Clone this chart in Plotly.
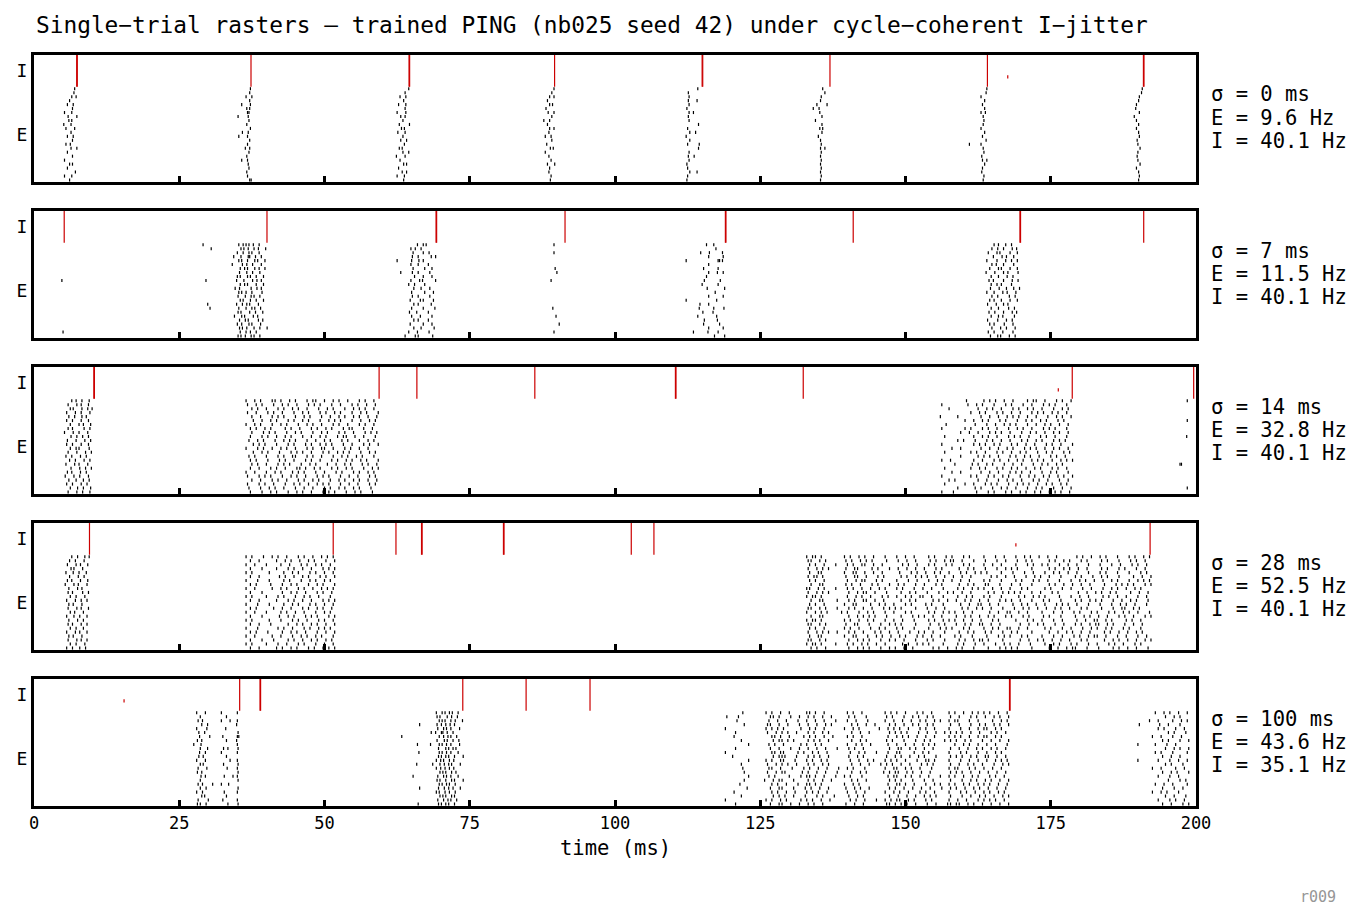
import plotly.graph_objects as go

# ---------------- data ----------------
N_E = 300          # E neuron index range (bottom)
N_I = 100          # I neuron index range (top)
N_ROWS = 24        # E rows (top row first)
TIME_TICKS = [0, 25, 50, 75, 100, 125, 150, 175, 200]

SIGMAS = ["0", "7", "14", "28", "100"]
E_RATES = ["9.6", "11.5", "32.8", "52.5", "43.6"]
I_RATES = ["40.1", "40.1", "40.1", "40.1", "35.1"]

# I population volleys (ms): all I cells fire together
I_VOLLEYS = [
    [7.35, 7.45, 37.35, 64.55, 64.65, 89.6, 115.0, 115.1, 137.0, 164.1, 190.95, 191.05],
    [5.2, 40.1, 69.2, 69.3, 91.4, 119.0, 119.1, 141.0, 169.7, 169.8, 191.0],
    [10.3, 10.4, 59.4, 65.9, 86.2, 110.4, 110.5, 132.4, 178.7, 199.6],
    [9.55, 51.5, 62.3, 66.7, 66.8, 80.8, 80.9, 102.8, 106.7, 192.1],
    [35.4, 38.9, 39.0, 73.8, 84.7, 95.7, 167.9, 168.0],
]
# isolated I spikes (time ms, neuron index)
I_SINGLES = [
    [(167.6, 331)],
    [],
    [(176.3, 328)],
    [(169.0, 331)],
    [(15.5, 331)],
]
# isolated E spikes (time ms, row)
E_SINGLES = [
    [],
    [(4.8, 9), (5.0, 22), (29.1, 0), (30.5, 1), (29.6, 9), (29.9, 15), (30.3, 16),
     (89.5, 0), (89.5, 2), (89.7, 6), (90.0, 7), (89.0, 9), (89.3, 16), (89.85, 18),
     (90.4, 20), (89.5, 22)],
    [(197.25, 16), (197.5, 16), (198.5, 0), (198.5, 5), (198.4, 9), (198.5, 22)],
    [],
    [(63.3, 6)],
]

# E bursts: (first column time ms, column width ms, rows top->bottom; '|' = spike)
# odd rows of the reading grid sit half a column later (staggered grid)
P1_BURSTS = [
    (5.0, 0.25, [
        "........|.", ".......|..", "......|..|", "....|.....", "...|...|..", "......|...",
        ".|....|...", "...|.....|", "....|.|...", "|....|....", "..|.....|.", ".....|....",
        "...|...|..", "......|...", "..|..|....", ".....|...|", "...|......", "......|...",
        ".|........", "....|.|...", "...|......", "........|.", ".|....|...", "....|....."]),
    (35.0, 0.25, [
        ".........|.", "........|..", "......|...|", "........|..", "...|.....|.", "......|.|..",
        ".......||..", "|......|...", "........|..", "......|....", ".........|.", "...|...|...",
        ".|.....|...", "........|..", ".......|...", ".....|..|..", "........|..", "......|....",
        "...|...|...", ".......|...", "........|..", "......|....", ".......|...", "........||."]),
    (62.0, 0.25, [
        "..........|", ".......|...", "....|...|..", "......|....", "...|....|..", ".......|...",
        "..|.....|..", "....|..|...", "......|....", "...|......|", ".....|.|...", "..|....|...",
        "......|....", "....|...|..", ".......|...", "...|.|.....", "......|...|", ".|.....|...",
        "....|......", "......|.|..", "...|.......", ".....|..|..", "..|....|...", "......|...."]),
    (87.5, 0.25, [
        "........|", "......|..", ".....|..|", "...|.....", ".....|.|.", "..|......",
        "....|...|", "......|..", ".|...|...", "...|.....", ".....|..|", "....|....",
        "..|...|..", "......|..", "...|.....", ".....|.|.", "..|......", "....|....",
        "......|..", "...|....|", ".....|...", "....|....", "......|..", ".....|..."]),
    (111.75, 0.25, [
        "..........|.", "...|........", "....|.......", "...|.....|..", "....|.......", "..|.........",
        "....|..|....", "...|........", "....|.......", "..........|.", "...|........", "....|...|...",
        "..|.........", "....|.......", "...|.......|", "..........|.", "....|.......", "...|...|....",
        "....|.......", "..|.........", "...|........", "....|....|..", "...|........", "..|........."]),
    (134.0, 0.25, [
        ".......|...", "........|..", "......|....", ".....|.....", "...|......|", "|...|......",
        ".....|.....", "......|....", "..|........", "......|....", ".....|.|...", "......|....",
        "....|......", ".....|.....", "......|....", ".....|..|..", "......|....", ".....|.....",
        "......|....", ".....|.....", "......|....", ".....|.....", "......|....", ".....|....."]),
    (161.0, 0.25, [
        "............|", "...........|.", "........|....", "..........|..", ".........|...", "..........|..",
        "........|..|.", ".........|...", "..........|..", ".........|...", "........|....", "..........|..",
        ".........|...", "...........|.", "|.......|....", ".........|...", "..........|..", "........|....",
        ".........|..|", "..........|..", ".........|...", "........|....", "..........|..", ".........|..."]),
    (188.25, 0.25, [
        "..........|", ".........|.", "........|..", ".......|...", "......|....", ".....|.....",
        "........|..", "....|......", "......|....", ".......|...", "......|....", ".......|...",
        "........|..", "......|....", ".......|...", "........|..", ".......|...", "......|....",
        ".......|...", "........|..", "......|....", ".......|...", "........|..", ".......|..."]),
]

P2_BURSTS = [
    (33.5, 0.25, [
        ".......|..|.|.|..|...|....", "........|.|..|...|..|....|", "......|...|...|.|....|....",
        "...|....|....||...|...|...", ".......|.|...|....|.|....|", "..|......|..|...|.....|...",
        "........|..|.|....|..|...|", ".......|....|...|....|....", "......|.|....|.|...|....|.",
        ".....|....|.....|..|..|...", "........|..|.|.....|....|.", "....|..|.......|...|..|...",
        ".......|.|..|...|......|..", "......|....|...|.|...|....", "........|.|....|...|....|.",
        ".....|...|..|.|.....|.....", ".......|....|...|.|...|....", "......|.|.....|...|....|..",
        "....|....|.|.....|..|.....", ".......|...|.|......|..|...", "......|..|....|.|.....|....",
        ".......|.|..|....|...|....|", "........|...|..|...|.......", "......|.|..|...|.|...|....."]),
    (62.25, 0.25, [
        "...............|...|.|......", "..........|..|...|..........", "............|......|...|....",
        "...........|...|........|..|", ".|.........|....|..|........", "..........|....|......|.....",
        "............|.......|....|..", "...|.......|...|.......|....", ".............|.....|.....|..",
        "..........|.....|.|........|", ".........|...|......|.......", "............|....|.....|....",
        "...........|........|.....|.", "...........|...|.......|....", "..........|......|.|......|.",
        "............|..|........|...", "...........|.......|.......|", ".........|....|.......|.....",
        "...........|.....|.......|..", "............|..|......|.....", "..........|........|.....|..",
        "............|....|........|.", ".........|.....|.......|....", "......|......|.|.........|.."]),
    (112.25, 0.25, [
        "..............|....|........", "....................|.......", "..........|.....|........|..",
        "...............|.........|..", "|.....................||.|..", "...............|............",
        "............|.........|.....", "...............|.....|...|..", "..............|............",
        "............|..........|....", "...........|..........|.....", "..............|...........|.",
        "....................|......", "...............|.........|..", "|....................|......",
        ".........|.....|............", ".........|.........|......|.", "...........|......|........",
        "........|............|......", "............|........|......", "............|..........|....",
        "...............|.........|..", ".....|.........|......|.....", "...................|......|."]),
    (163.25, 0.25, [
        "........|..|....|...|......", "......|...|...|.....|..|...", "....|.....|.|......|....|..",
        ".......|.....|..|....|.....", "...|......|.....|...|...|...", "......|..|....|......|.....",
        ".....|.....|.|.....|....|..", "..|.....|.....|..|......|..", "......|....|.....|...|.....",
        "....|..|......|.....|...|..", "......|...|..|......|......", ".....|.....|....|....|...|.",
        "...|....|.....|..|.....|...", "......|...|.......|...|....", ".....|..|....|.....|....|..",
        "...|.....|....|..|.........", "......|....|......|...|....", "....|...|.....|.....|..|...",
        "......|....|..|.......|....", "...|......|.....|...|......", ".....|..|......|.....|.....",
        "......|.....|...|.....|....", "....|...|.....|......|.....", ".....|....|.|.....|...|...."]),
]

P3_BURSTS = [
    (4.75, 0.25, [
        ".......|..|...|....|.", "....|.....|..|....|..", "......|.|.....|...|..|",
        "...|.....|...|.....|.", ".....|...|....|..|...", "...|...|.....|....|...",
        "......|.....|..|....|.", "....|..|.......|...|..", "..|.....|...|.....|...",
        "......|...|...|...|...", "....|.....|.....|...|.", "...|...|.....|....|...",
        "......|...|.|......|..", "....|.....|.....|...|.", "...|...|.....|...|....",
        ".....|...|.....|...|..", "...|.....|..|.....|...", "......|.....|...|...|.",
        "....|..|.....|...|....", "..|.....|...|.....|...", ".....|....|....|...|..",
        "...|...|.....|...|....", "......|....|...|....|.", "....|.....|...|....|.."]),
    (36.5, 0.5, [
        "|..|.|...||.|..|.|...|.||..|..|.|..|...|.|..|.",
        "|..|.|...|..|.|..|...|.|.|...|..|...|.|..|..|.",
        "..|.|..|...|.|..|.|..|...|..|.|...|..|.|.|..|.",
        "|..|...|.|..|...|..|.|...|.|..|.|...|..|.|...|",
        "..|..|...|.|.|...|..|.|...|..|..|.|..|.|..|..|",
        "..|..|..|.|...|.|..|.|...|..|.|.|...|..|..|.|.",
        "|..|.|...|..|.|...|..|.|..|...|.|..|...|.|..|.",
        ".|.|..|.|....|.|..|...|.|..|.|...|.||...|..|..",
        "..|...|.|.|...|..|.|...|..|.|...|.|..|...|.|.|",
        ".|...|.|..|..|.|...|..|..|.|...|.||..|..|...|.",
        ".|..|.|...|..|.|.|...|..|..|.|...|.|...|..|.|.",
        "..|.|.|...|...|.|...|.|..|.|.|...|..|...|.|..|",
        "|...|.|..|..|.|..|...|.|..||..|...|.|..|..|...",
        "..|..|.|...|...|.|.|..|...|.|..|.|.|...|..|.|.",
        ".|.|...|...|.|..||...|.|..|...|..|.|..|.|...|.",
        ".|.|...|...|.|..|...|.|..|...|.|..|.|..|.|...|",
        "..|.|..|...|.|.|...|..|.|...|..|..|.|...|.|..|",
        ".|..|...|.|..|...||.|..|.|...|.|..|.|...|..|.|",
        "|..|...|..|.|...|.|.|...|..|...|.|...|.|..|.|.",
        "|...|.|.|...|..|.|..|...|.|.|...|..|..|...|.|.",
        "..|..|...|.|..|...|.|..|.|...|..|.|..|.|..|..|",
        "|...|.|..|...|..|.|..|..|.|.|...|..|..|...|.|.",
        ".|...|..|.|..|...|..|..|...|.|..|.|..|.|...|..",
        ".|...|..|.|...|..|.|..|...|.|.|...|..|.|...|.."]),
    (155.0, 0.5, [
        "...........|.....|.|.|..|..|....|.||..|...|.|..|", "..|........|..|.|...|...|.|...|..|...|.|.|...|..",
        ".....|.........|..|.|..|...|.|..|.|..|...|..|.|.", "............|..|.|...|.|..|..|...|.|.|..|.|..|..",
        "..|.....|.......|..|..|..|.|.|..|..|...|..|.|..|", "..........|..|..|.|...|.|...|..|.|..|.|...|.|...",
        "....|.........|...|..|..|.|.|...|..|..|.|..|..|.", "..|.......|.|...|.|..|...|..|.|..|...|.|.|...|..",
        ".........|..|..|...|.|.|..|...|..|.|..|..|.|..|.", "...|.........|..|.|..|...|.|.|..|...|.|..|...|..",
        "........|.|...|...|.|..|..|...|.|..|.|...|.|.|..", "..|..........|.|.|..|.|...|.|..|..|...|.|..|...|",
        "......|..|......|..|..|..|.|...|.|.|..|..|.|..|.", "...|........|.|..|...|.|..|..|.|...|..|.|...|.|.",
        ".........|.....|.|.|..|...|.|..|.|..|...|.|..|..", "..|..|.......|..|...|.|..|..|.|..|.|.|..|..|.|.|",
        ".......|.....|.|..|.|...|..|..|...|..|.|..|.|...", "...|........|..|.|...|.|..|.|..|..|.|...|.|..|..",
        "......|..|......|..|..|...|.|.|..|...|..|.|...|.", "..|.........|.|...|.|..|.|...|..|.|..|.|..|.|..|",
        ".....|.|.......|..|...|..|.|..|...|.|..|...|..|.", "...|......|..|...|.|.|...|..|.|.|..|..|.|..|.|..",
        "........|.....|.|...|..|.|..|...|..|.|...|..|..|", "..|...|.......|...|.|...|.|..|.|..|.|..|.|.|..|."]),
]

P4_BURSTS = [
    (5.0, 0.25, [
        "......|...|....|..|", "....|...|.....|....", "...|.....|..|....|.", ".....|.|.....|.....",
        "..|....|...|....|..", "....|.....|...|....", "...|..|.....|....|.", ".|.....|..|.....|..",
        "....|.....|..|.....", "...|..|......|...|.", ".....|...|.....|...", "..|.....|...|...|..",
        "....|..|.....|.....", "...|.....|..|....|.", ".....|..|.....|....", "..|....|...|....|..",
        "....|.....|...|....", "...|..|.....|...|..", ".....|...|....|....", "..|.....|..|....|..",
        "....|..|.....|.....", "...|.....|..|...|..", ".....|...|.....|...", "..|...|....|...|..."]),
    (36.5, 0.5, [
        "|.|...|..|.|..|...|.|..|..|.|.|", ".|..|.....|..|.|..|..|.|...|..|", "|..|...|....|..|...|.|..|.|..|.",
        ".|...|....|...|.|..|..|...|.|.|", "|.|.....|....|..|.|...|.|..|..|", ".|..|......|.|..|..|.|...|.|..|",
        "|...|...|....|.|...|..|.|..|.|.", ".|.|....|...|..|.|...|..|.|...|", "|..|.....|..|.|...|.|..|..|.|.|",
        ".|...|......|..|.|..|...|.|..|.", "|.|....|...|.|...|..|.|..|...|.", ".|..|.....|...|.|..|..|...|.|.|",
        "|...|...|....|..|.|...|.|..|..|", ".|.|.....|..|..|...|.|..|.|..|.", "|..|...|....|.|..|..|...|..|.|.",
        ".|...|.....|..|.|...|.|.|...|.|", "|.|.....|...|...|.|..|...|.|..|", ".|..|...|.....|..|.|..|.|..|..|",
        "|...|......|.|..|...|.|..|.|.|.", ".|.|...|....|..|.|..|...|..|..|", "|..|.....|..|...|..|.|..|.|...|",
        ".|...|...|....|.|..|..|.|..|.|.", "|.|....|...|..|...|.|...|..|..|", ".|..|.....|.|..|.|...|.|..|.|.|"]),
    (133.0, 0.5, [
        "|.||.|.... ...|.|..|. |..|...|.. .|..|..|.. ..|.|...|. |...|.|... .|...|..|. ..|..|.|.. |..|..|... ...|.|..|. .|.|...|. ..|.|..|.|",
        "||..|.|... ...|.|..|. |.|....|.. .|..|..|.. ..|.|..|.| |..|...|.. .|...|..|. ..|..|.|.. ...|.|..|. |...|.|... .|.|...|. ..|.|..|..",
        ".|.|..|... |...|.|..| |..|..|... ...|.|..|. ..|.|...|. |...|.|... .|..|..|.. ..|...|.|. .|.|...|.. |..|...|.. .|...|..| ...|.|..|.",
        "|..|.|.|.. ...|..||.. ..|.|...|. .|..|..|.. |...|.|... ..|..|.|.. .|...|..|. |.|....|.. ...|.|..|. |..|..|... .|.|...|. |...|..|..",
        ".|..||.... ...|..||.. |..|..|... ..|...|.|. .|..|.|..| ...|.|..|. |.|....|.. .|...|..|. ..|..|.|.. |..|...|.. .|.|...|. ..|...|.|.",
        "|.||.|.... ...|..||.. |...|.|... ..|.|..|.| .|..|..|.. |..|..|... ...|.|..|. .|...|..|. |..|...|.. ..|.|...|. .|.|...|. ...|..|..|",
        ".|.|..|... ....|..|.| |...|.|... .|...|..|. ..|..|.|.. |..|..|... .|.|...|.. ..|.|...|. |..|...|.. .|..|.|..| ..|..|.|. ..|..|.|.|",
        ".|..||.... ...|.|..|. ..|.|...|. .|.|...|.. |...|.|... ..|..|.|.. .||...|... |..|...|.. ...|.|..|. .|..|..|.. ..|...|.| .|.|...|.|",
        "||..|.|... |...|.|..| ..|..|.|.. .|.|...|.. |..|...|.. ..|.|..|.| .|..|..|.. |...|.|... ..|.|...|. .|...|..|. ..|..|.|. .|..|.|...",
        "|..|.|.|.. ....|..|.| |..|...|.. ..|..|.|.. .|...|..|. |..|..|... ..|.|..|.| .|.|...|.. |...|.|... ...|..|..| .|..|.|.. ..|..|..|.",
        "|.||.|.... ....|..|.| ..|...|.|. .|..|.|..| |..|...|.. ..|..|.|.. .|.|...|.. ...|.|..|. |.|....|.. .|..|..|.. ..|.|..|. .|...|..|.",
        ".|..||.... |...|.|..| |..|..|... ..|..|.|.. ...|.|..|. .|..|.|..| ..|...|.|. |..|...|.. .|.|...|.. ..|.|..|.| .|...|..| ..|.|...|.",
        ".|.|..|... ...|..||.. ..|..|.|.. |...|.|... .|.|...|.. ...|..|..| |..|..|... .|..|.|..| ..|...|.|. |..|...|.. .|...|..| .|..|...|.",
        "||..|.|... |...|.|..| ..|...|.|. |.|....|.. .|..|..|.. ...|.|..|. |..|...|.. .|..|.|..| ..|..|.|.. |...|.|... .|...|..| |..|.|....",
        "|..|.|.|.. ..|.|...|. .|.|...|.. |...|.|... ..|.|..|.| .|..|..|.. ...|..|..| |..|..|... .|...|..|. ..|.|...|. |...|.|.. |.|..|...|",
        ".|..||.... ....|..|.| .|.|...|.. ..|...|.|. |..|..|... .|..|.|..| ..|.|...|. |...|.|... .|.|...|.. ..|..|.|.. |..|...|. |..|...|.|",
        "|.||.|.... ...|.|..|. .|.|...|.. |..|...|.. ..|.|..|.| .|..|..|.. |...|.|... ..|...|.|. .|...|..|. ...|..|..| |..|.|... .|.|..|...",
        "||..|.|... ...|..||.. .|...|..|. |.|....|.. ..|..|.|.. .|..|.|..| |..|..|... ...|..|..| .|...|..|. ..|.|..|.| |..|.|... |..|..|...",
        ".|.|..|... ...|.|..|. ..|..|.|.. .|.|...|.. ..|...|.|. |...|.|... .|..|.|..| |..|..|... ..|.|...|. .|...|..|. |..|.|... |.|...|...",
        "|..|.|.|.. |...|.|..| ...|.|..|. .|...|..|. |..|...|.. ..|..|.|.. .|.|...|.. |.|....|.. ...|..|..| .|..|..|.. ..|.|..|. .|..|.|...",
        ".|..||.... ...|..||.. .|..|.|..| ..|.|...|. |..|..|... .|.|...|.. ..|...|.|. |...|.|... .|...|..|. ..|.|..|.| |..|...|. .|...|..|.",
        "||..|.|... ....|..|.| .|...|..|. |..|...|.. .|.|...|.. ..|.|..|.| |.|....|.. ...|..|..| .|..|..|.. |...|.|... ..|..|.|. .|..|..|.|",
        "|.||.|.... |...|.|..| .|..|..|.. ...|.|..|. |.|....|.. ..|.|...|. .|...|..|. |..|...|.. ..|..|.|.. .|.|...|.. |...|.|.. |...|.|...",
        ".|.|..|... ....|..|.| .|...|..|. |..|..|... ...|.|..|. .|.|...|.. ..|...|.|. |.|....|.. ...|..|..| .||...|... |....|.|.. |..|...|.."]),
]

P5_BURSTS = [
    (27.5, 0.25, [
        "..|.....|......", "....|..........", "...|..|........", ".....|...|.....", "..|......|.....",
        "...|...|.......", "....|......|...", "..|..|.........", "|....|.........", "....|....|.....",
        "....|...|......", "...|..|........", "..|.....|......", "....|.|........", "...|.....|.....",
        "..|..|.........", ".....|..|......", "....|..........", "...|..|......|.", "....|...|......",
        "..|...|........", ".....|.|.......", "...|......|....", "..|.|...|......"]),
    (32.25, 0.25, [
        "|..........|.", "...|.........", "|.....|....|.", "..........|..", "...|.........",
        "...........|.", ".|.........||", "...|......|..", "...........|.", ".|..|......|.",
        "|..........|.", "...|.........", "......|....|.", ".|.........|.", "....|......|.",
        "...........|.", "..|.....|..|.", "...........|.", "|....|.......", "...........|.",
        "..|........|.", "...|.........", ".|.........|.", "....|......|."]),
    (65.25, 0.25, [
        ".......... ......|... |.|..|.|.. .|...", ".......... ......|.|. ...|..|... |....",
        ".......... ........|. |.|...|..| ....|", "....|..... ......|..| ..|..|..|. .....",
        ".......... .......|.. .|.|..|... ..|..", ".......... ..|..|...| |..|...|.. .....",
        ".......... ........|. .|..|.|... |....", ".......... ......|... .|.|...|.. .|...",
        "...|...... ..|.....|. |..|..|... ..|..", ".......... .......|.. ..|.|..|.| .....",
        "....|..... ........|. |..|..|... .|...", ".......... .......|.| ..|.|...|. ....|",
        ".......... ......|..| .|...|..|. .....", "..|....... ...|....|. .|..|.|... ..|..",
        ".......... ......|..| ..|..|..|. .....", ".......... ........|. |.|...|..| .....",
        "|......... .......|.. .|.|..|... .|...", ".......... ......|.|. ..|...|.|. ....|",
        ".......... ........|. |..|.|...| .....", "....|..... .......|.. .|..|..|.. ..|..",
        ".......... ......|.|. ..|..|...| .....", ".......... ........|. |.|...|.|. .....",
        ".......... .......|.. .|..|.|... |....", "...|...... .......|.| ..|.|...|. ....."]),
    (119.0, 0.5, [
        "......|... ....|.|..| ..|.....|| .|..|..... ..|.|..|.. .....|.|.| ..|...|.|. .|.....|.| ..|..|.|.| .|..|..|",
        "|...|..... .....||.|. ..|..|..|. |..|..|... ..|.|...|. .....|.|.. .|..|.|..| .|.....|.. |...|.|..| ..|.|..|",
        "....|..... .....|..|. .|...|..|. .|..|...|. ..|..|...| .....|..|. .|..|..|.| ..|.|..|.| |...|..|.. ..|..|.|",
        "......|... ....||..|. .|...|..|. .|..|.|... ...|.|..|. .|....|.|. .|..|.|..| .|.....|.. |...|..|.| ..|.|..|",
        "|......... ....|.|.|. |.....|..| .|..|..... .|..|.|... ...|..|.|. |..|...|.| ..|....|.. .|..|..|.| |..|.|..",
        "...|...... ....|..|.| .|..|...|. |..|.|.... ...|..|..| ......|.|. |.|...|..| ..|..|.|.| .|..|..|.. .|.|..|.",
        "...|...... ......||.| ..|....|.| .|..|..|.. ..|.|..|.. ......|..| .|.|..|..| ..|....|.| .|..|..|.| |..|.|..",
        ".....|.... ......|.|| .|.|....|. |.|..|.... ...|..|.|. .....|.|.. .|...|..|. |....|.|.| ..|.|...|. .|..|..|",
        "........|. .....|.|.. |.....|.|. .|.|...... ..|..|.|.. |.....|..| ..|..|..|. |.|......| ..|.|..|.. |..|...|",
        "...|...... .....|..|. ..|..|..|. .|..|...|. ..|.|..|.. ......|..| |..|.|..|. .|.....|.. |..|..|.|. .|.|..|.",
        "|......... ......||.| |....|.|.. |.|..|.... ...|..|.|. ..|...|..| |....|..|. |......|.. .|.|...|.. |..|.|..",
        "..|....... ......|.|| |...|...|. |.|..|.... ..|..|.|.. .....|..|. |..|..|.|. ..|....|.| .|..|.|..| |..|..|.",
        "........|. ....|.|..| |...|...|. |..|.|.... ...|..|..| .|...|.|.| ..|...|..| |.|....|.. .|..|..|.. |..|.|.|",
        ".....|.... ....|..|.| .|..|...|. |..|.|.... ...|..|..| ...|.|.|.. |..|...|.| .|.....|.. |..|.|..|. ..|..|.|",
        "......|... .....||..| ...|...|.| ..|..|...| ..|.|...|. .....|..|| ..|.|..|.. .|.....|.| |...|.|..| ..|..|..",
        "......|... ....|..|.| |.....|.|. .|..|...|. ...|..|.|. ....|.|.|| ..|.|..|.. |......|.| .|..|..|.. |..|..|.",
        "........|. .....|.|.. ..|...|.|| .|..|...|. .|.|...|.. ......|.|| ..|.|..|.. |...|..|.| ..|..|.|.. .|.|..|.",
        "......|... ...|..|.|| ...|....|. |..|..|... ...|.|..|. ......|.|. |...|...|. .|.....|.. .|..|.|..| .|..|..|",
        ".....|.... ......|.|. .|...|..|| .|.|...... .|..|.|... ......|..| |.|..|...| ..|.|..|.| ..|.|..|.| .|..|..|",
        ".......|.. .....|..|| ...|...|.| ..|..|.... .|..|.|..| ......|.|. .|..|..|.. |...|..|.| ..|..|.|.. |..|..|.",
        "...|...... ......|.|. .|..|...|. |.|..|.... ..|..|..|. .....|..|. |..|...|.| ..|....|.. .|.|..|..| .|..|.|.",
        ".....|.... ......|.|. |..|...|.. .|.|...|.. ..|..|.|.. ......|..| ..|..|..|. |.|....|.. .|..|..|.| ..|..|.|",
        "|......... ....|.|..| .|....|.|. |..|..|... ...|.|..|. ..|..|.|.| |..|.|...| .|.....|.. |..|...|.| .|.|..|.",
        "...|...... .....|..|| ..|..|..|. |..|...... .|..|..|.. .....||.|. |.|..|...| ..|...||.| |..|.|..|. .|..|..|"]),
    (190.0, 0.5, [
        "......|..|.|..|..|", ".........|..|.|...", "....|..|....|..|.|", "|......|..|...|...",
        ".......|.|...|..|.", "..........|.|...|.", ".....|..|...|..|..", "........|.|...|..|",
        "|.....|...|..|....", ".........|..|.|..|", "......|.|...|....|", "........|..|..|...",
        "|......|...|..|..|", ".........|.|...|..", ".....|..|....|..|.", "........|..|.|...|",
        ".......|...|..|...", "..........|...|.|.", "......|..|..|....|", "........|...|..|..",
        ".....|..|.|...|...", ".........|..|...|.", ".......|...|.|..|.", "........|..|...|.|"]),
]

E_BURSTS = [P1_BURSTS, P2_BURSTS, P3_BURSTS, P4_BURSTS, P5_BURSTS]

# ---------------- figure ----------------
W, H = 1363, 922
ML, MR, MT, MB = 34, 167, 55, 116
PLOT_H = H - MT - MB
PANEL_H, STEP = 127, 156
FONT = "DejaVu Sans Mono"
RED = "rgb(204,0,0)"


def row_to_y(r):
    return N_E * (1 - (r + 0.5) / N_ROWS)


fig = go.Figure()
annotations = []

for k in range(5):
    sfx = "" if k == 0 else str(k + 1)
    xref, yref = "x" + sfx, "y" + sfx

    ex, ey = [], []
    for t0, dt, rows in E_BURSTS[k]:
        for r, row in enumerate(rows):
            s = row.replace(" ", "")
            shift = 0.5 * dt if r % 2 else 0.0
            for c, ch in enumerate(s):
                if ch == "|":
                    ex.append(t0 + c * dt + shift)
                    ey.append(row_to_y(r))
    for t, r in E_SINGLES[k]:
        ex.append(t)
        ey.append(row_to_y(r))

    fig.add_trace(go.Scatter(
        x=ex, y=ey, mode="markers", xaxis=xref, yaxis=yref, showlegend=False,
        marker=dict(symbol="line-ns", size=2.2, color="black",
                    line=dict(width=1.2, color="black")),
        hoverinfo="skip"))

    lx, ly = [], []
    for t in I_VOLLEYS[k]:
        lx += [t, t, None]
        ly += [N_E, N_E + N_I, None]
    fig.add_trace(go.Scatter(
        x=lx, y=ly, mode="lines", xaxis=xref, yaxis=yref, showlegend=False,
        line=dict(color=RED, width=1.2), hoverinfo="skip"))

    if I_SINGLES[k]:
        fig.add_trace(go.Scatter(
            x=[p[0] for p in I_SINGLES[k]], y=[p[1] for p in I_SINGLES[k]],
            mode="markers", xaxis=xref, yaxis=yref, showlegend=False,
            marker=dict(symbol="line-ns", size=2.2, color=RED,
                        line=dict(width=1.2, color=RED)),
            hoverinfo="skip"))

    top = k * STEP
    bot = top + PANEL_H
    dom = [max(0.0, 1 - bot / PLOT_H), min(1.0, 1 - top / PLOT_H)]

    fig.layout["xaxis" + sfx] = dict(
        domain=[0, 1], anchor=yref, range=[0, 200], tickvals=TIME_TICKS,
        ticks="inside", ticklen=6, tickwidth=2.5, tickcolor="black",
        showticklabels=(k == 4), showgrid=False, zeroline=False,
        showline=True, linewidth=3, linecolor="black", mirror=True,
        tickfont=dict(family=FONT, size=17, color="black"))
    fig.layout["yaxis" + sfx] = dict(
        domain=dom, anchor=xref, range=[0, N_E + N_I],
        tickvals=[N_E / 2, N_E + N_I / 2], ticktext=["E", "I"], ticks="",
        showgrid=False, zeroline=False, showline=True, linewidth=3,
        linecolor="black", mirror=True,
        tickfont=dict(family=FONT, size=18, color="black"))

    center_px = MT + top + PANEL_H / 2 - 1
    texts = [f"σ = {SIGMAS[k]} ms", f"E = {E_RATES[k]} Hz", f"I = {I_RATES[k]} Hz"]
    for j, txt in enumerate(texts):
        ypx = center_px + (j - 1) * 23
        annotations.append(dict(
            text=txt, xref="paper", yref="paper",
            x=(1209 - ML) / (W - ML - MR), y=1 - (ypx - MT) / PLOT_H,
            xanchor="left", yanchor="middle", showarrow=False,
            font=dict(family=FONT, size=20.5, color="black")))

annotations.append(dict(
    text="Single−trial rasters — trained PING (nb025 seed 42) under cycle−coherent I−jitter",
    xref="paper", yref="paper", x=0, y=1 + (MT - 25) / PLOT_H,
    xanchor="left", yanchor="middle", showarrow=False,
    font=dict(family=FONT, size=22.8, color="black")))
annotations.append(dict(
    text="time (ms)", xref="paper", yref="paper", x=0.5, y=1 - (848 - MT) / PLOT_H,
    xanchor="center", yanchor="middle", showarrow=False,
    font=dict(family=FONT, size=20.5, color="black")))
annotations.append(dict(
    text="r009", xref="paper", yref="paper", x=(1338 - ML) / (W - ML - MR),
    y=1 - (897 - MT) / PLOT_H, xanchor="right", yanchor="middle", showarrow=False,
    font=dict(family=FONT, size=15, color="rgb(150,150,150)")))

fig.update_layout(
    width=W, height=H, margin=dict(l=ML, r=MR, t=MT, b=MB, pad=0),
    paper_bgcolor="white", plot_bgcolor="white", annotations=annotations,
    showlegend=False)

fig.write_html("out.html")
